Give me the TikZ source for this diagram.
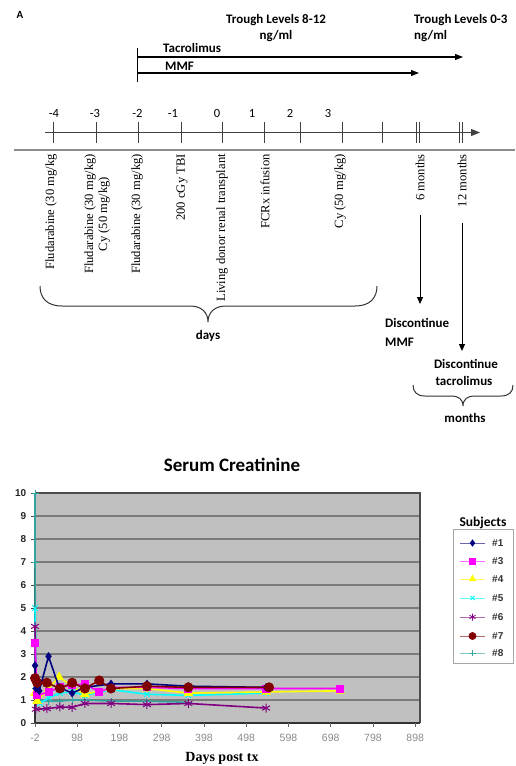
\documentclass[tikz,border=0pt]{standalone}
\usepackage{fontspec}
\setmainfont{Liberation Serif}
\newfontfamily\calfont{Carlito}
\newfontfamily\arialfont{Liberation Sans}
\usetikzlibrary{arrows.meta,plotmarks}
\definecolor{navyc}{HTML}{000080}
\definecolor{magc}{HTML}{FF00FF}
\definecolor{yelc}{HTML}{FFFF00}
\definecolor{cyac}{HTML}{00FFFF}
\definecolor{purc}{HTML}{800080}
\definecolor{marc}{HTML}{800000}
\definecolor{teac}{HTML}{33A5A0}
\definecolor{plotbg}{HTML}{C0C0C0}
\definecolor{gridc}{HTML}{7A7A7A}
\definecolor{axlab}{HTML}{8A8A8A}
\begin{document}
\begin{tikzpicture}[x=1pt,y=-1pt,
  bl/.style={font=\calfont\bfseries\fontsize{13}{15}\selectfont, inner sep=0pt},
  num/.style={font=\calfont\fontsize{12.5}{14}\selectfont, inner sep=0pt, anchor=base},
  rot/.style={rotate=90, anchor=east, inner sep=0pt, align=center, font=\fontsize{12.6}{14}\selectfont},
  tline/.style={line width=0.9pt, draw=black!75},
  toparr/.style={line width=1.1pt, -{Triangle[length=8pt,width=6pt]}},
  darr/.style={line width=1pt, -{Triangle[length=7pt,width=6pt]}},
  bracel/.style={line width=1pt, draw=black!80},
  ylab/.style={font=\arialfont\bfseries\fontsize{10}{12}\selectfont, inner sep=0pt, anchor=east, text=black!85},
  xlab/.style={font=\arialfont\fontsize{10.5}{12}\selectfont, inner sep=0pt, anchor=base, text=axlab},
  leglab/.style={font=\arialfont\bfseries\fontsize{10}{12}\selectfont, inner sep=0pt, anchor=west, text=black!80},
  series/.style={line width=1.6pt, draw=#1, mark options={fill=#1, draw=#1, line width=1pt}},
  legser/.style={line width=0.6pt, draw=#1!60, mark options={fill=#1, draw=#1, line width=0.8pt}}
]
\useasboundingbox (0,0) rectangle (515,766);

% ---------- header ----------
\node[bl, font=\calfont\bfseries\fontsize{11}{13}\selectfont] (lblA) at (20,15) {A};
\node[bl, anchor=base] (tr1a) at (276,23) {Trough Levels 8-12};
\node[bl, anchor=base] (tr1b) at (276,39) {ng/ml};
\node[bl, anchor=base west] (tr2a) at (414,23) {Trough Levels 0-3};
\node[bl, anchor=base west] (tr2b) at (414,39) {ng/ml};

\coordinate (barT) at (137,48);
\coordinate (barB) at (137,82);
\draw[line width=1pt] (barT) -- (barB);
\coordinate (tacS) at (137,57);
\coordinate (tacE) at (463,57);
\draw[toparr] (tacS) -- (tacE);
\node[bl, anchor=base west] (tac) at (163,52) {Tacrolimus};
\coordinate (mmfS) at (137,73);
\coordinate (mmfE) at (419,73);
\draw[toparr] (mmfS) -- (mmfE);
\node[bl, anchor=base west] (mmf) at (165,70.5) {MMF};

% ---------- timeline ----------
\coordinate (axS) at (45,132.5);
\coordinate (axE) at (480,132.5);
\draw[tline, -{Triangle[length=9pt,width=7pt]}] (axS) -- (axE);
\foreach \x in {53,96,138,181,222,264,300,342,382}
  \draw[tline] (\x,122) -- (\x,143);
\foreach \x in {418,461} {
  \draw[tline, line width=1.2pt] ({\x-1.4},122) -- ({\x-1.4},143);
  \draw[tline, line width=1.2pt] ({\x+1.4},122) -- ({\x+1.4},143);
}
\foreach \x/\t [count=\i] in {54/-4, 95/-3, 137.5/-2, 173/-1, 217/0, 252/1, 290/2, 328/3}
  \node[num] (num\i) at (\x,117) {\t};

\coordinate (sepL) at (14,150);
\coordinate (sepR) at (515,150);
\draw[line width=2pt, draw=black!45] (sepL) -- (sepR);

% ---------- events ----------
\node[rot] (ev1) at (51,154) {Fludarabine (30 mg/kg};
\node[rot] (ev2) at (97,154) {Fludarabine (30 mg/kg)\\Cy (50 mg/kg)};
\node[rot] (ev3) at (137,154) {Fludarabine (30 mg/kg)};
\node[rot] (ev4) at (182,154) {200 cGy TBI};
\node[rot] (ev5) at (222,154) {Living donor renal transplant};
\node[rot] (ev6) at (265,154) {FCRx infusion};
\node[rot] (ev7) at (340,154) {Cy (50 mg/kg)};
\node[rot] (ev8) at (420,154) {6 months};
\node[rot] (ev9) at (462,154) {12 months};

\coordinate (d6s) at (420,215);
\coordinate (d6e) at (420,304);
\draw[darr] (d6s) -- (d6e);
\coordinate (d12s) at (462,223);
\coordinate (d12e) at (462,351);
\draw[darr] (d12s) -- (d12e);

\node[bl, anchor=base west] (dm1) at (385,327) {Discontinue};
\node[bl, anchor=base west] (dm2) at (385,346) {MMF};
\node[bl, anchor=base] (dt1) at (466,368) {Discontinue};
\node[bl, anchor=base] (dt2) at (464,385) {tacrolimus};

% braces
\draw[bracel] (40,286) .. controls (40,298) and (47,306) .. (62,306) -- (190,306)
  .. controls (201,306) and (208,312) .. (208,322)
  .. controls (208,312) and (215,306) .. (226,306) -- (355,306)
  .. controls (370,306) and (377,298) .. (377,286);
\node[bl, anchor=base] (days) at (208,339) {days};

\draw[bracel] (413,385) .. controls (413,392) and (417,396) .. (425,396) -- (452,396)
  .. controls (458,396) and (463,399) .. (463,406)
  .. controls (463,399) and (468,396) .. (474,396) -- (501,396)
  .. controls (509,396) and (513,392) .. (513,385);
\node[bl, anchor=base] (months) at (465,422) {months};

% ---------- chart ----------
\node[anchor=base, inner sep=0pt, font=\calfont\bfseries\fontsize{19}{22}\selectfont] (title) at (232,471) {Serum Creatinine};

\fill[plotbg] (35,493) rectangle (420,723);
\foreach \v in {1,...,9}
  \draw[gridc, line width=1.4pt] (35,{723-23*\v}) -- (420,{723-23*\v});
\draw[line width=1.4pt, black!70] (35,493) -- (420,493) -- (420,723);
\draw[line width=1.4pt, black!80] (35,493) -- (35,723) -- (420,723);
\foreach \v in {0,...,10} {
  \draw[black!70, line width=0.8pt] (31,{723-23*\v}) -- (35,{723-23*\v});
  \node[ylab] (ylab\v) at (26.5,{723-23*\v}) {\v};
}
\foreach \x/\t [count=\i] in {35/-2, 77.25/98, 119.5/198, 161.75/298, 204/398, 246.25/498, 288.5/598, 330.75/698, 373/798, 415.25/898} {
  \draw[black!60, line width=0.8pt] (\x,723) -- (\x,727);
  \node[xlab] (xl\i) at (\x,741) {\t};
}
\node[anchor=base, inner sep=0pt, font=\bfseries\fontsize{14}{16}\selectfont] (xtitle) at (222,761) {Days post tx};

\begin{scope}[shift={(35.85pt,-723pt)}, x=0.4225pt, y=23pt]
  \draw[series=teac, mark=+, mark size=3.5pt] plot coordinates {(-2,10) (-2,7) (0,1.5) (8,1.0) (30,0.95) (57,0.95) (86,1.0) (116,1.0) (178,0.95) (263,0.95) (361,0.9)};
  \draw[series=cyac, mark=x, mark size=4pt] plot coordinates {(-2,5) (0,1.2) (10,0.85) (30,1.1) (57,1.3) (86,1.35) (116,1.2) (178,1.45) (263,1.25) (361,1.2) (545,1.3)};
  \draw[series=purc, mark=asterisk, mark size=4.5pt] plot coordinates {(-2,4.2) (0,0.6) (26,0.62) (57,0.7) (86,0.68) (116,0.85) (178,0.85) (263,0.8) (361,0.85) (545,0.65)};
  \draw[series=yelc, mark=triangle*, mark size=4.5pt] plot coordinates {(-2,1.3) (3,0.95) (30,1.5) (55,2.0) (86,1.6) (116,1.25) (178,1.5) (263,1.5) (361,1.3) (545,1.35) (720,1.4)};
  \draw[series=magc, mark=square*, mark size=3.5pt] plot coordinates {(-2,3.5) (3,1.2) (30,1.35) (57,1.55) (86,1.65) (116,1.7) (150,1.35) (178,1.55) (263,1.55) (361,1.5) (545,1.5) (720,1.5)};
  \draw[series=navyc, mark=diamond*, mark size=3.5pt] plot coordinates {(-2,2.5) (0,1.5) (8,1.4) (30,2.9) (55,1.55) (86,1.3) (116,1.55) (178,1.7) (263,1.7) (361,1.6) (545,1.55)};
  \draw[series=marc, mark=*, mark size=4.5pt] plot coordinates {(-2,1.95) (3,1.75) (26,1.75) (57,1.5) (86,1.75) (116,1.5) (150,1.85) (178,1.5) (263,1.6) (361,1.55) (552,1.55)};
\end{scope}

% ---------- legend ----------
\node[anchor=base, inner sep=0pt, font=\calfont\bfseries\fontsize{13.5}{15}\selectfont] (legtitle) at (483,526) {Subjects};
\draw[black!35, line width=0.6pt] (453,529) rectangle (513,663);
\foreach \y/\c/\m/\s/\t [count=\i] in {543/navyc/diamond*/3/1, 561/magc/square*/3/3, 579/yelc/triangle*/3.5/4, 598/cyac/x/3/5, 617/purc/asterisk/3.5/6, 636/marc/*/3.5/7, 653/teac/+/3/8} {
  \coordinate (lgA\i) at (460,\y);
  \coordinate (lgB\i) at (485,\y);
  \draw[legser=\c] (lgA\i) -- (lgB\i);
  \draw[legser=\c, mark=\m, mark size=\s pt] plot coordinates {(472.5,\y)};
  \node[leglab] (leg\i) at (492,\y) {\#\t};
}
\end{tikzpicture}
\end{document}
